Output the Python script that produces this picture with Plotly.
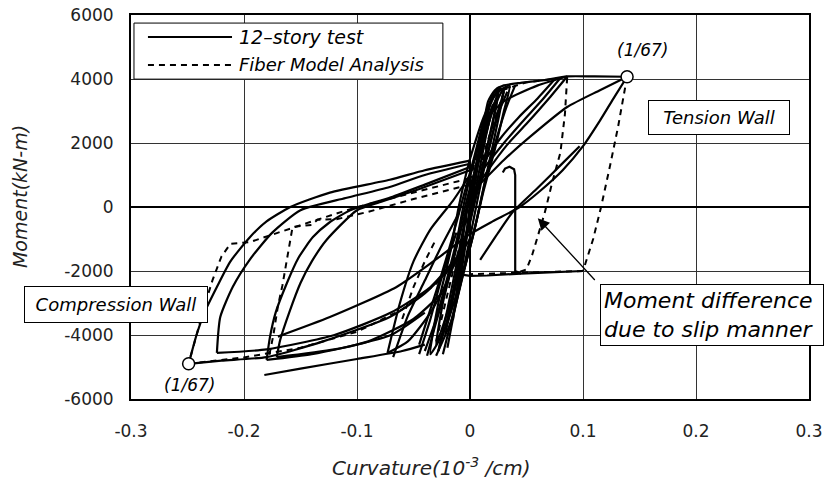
import plotly.graph_objects as go

# ---------------- data ----------------
x_ticks = [-0.3, -0.2, -0.1, 0, 0.1, 0.2, 0.3]
x_tick_text = ["-0.3", "-0.2", "-0.1", "0", "0.1", "0.2", "0.3"]
y_ticks = [-6000, -4000, -2000, 0, 2000, 4000, 6000]
y_tick_text = ["-6000", "-4000", "-2000", "0", "2000", "4000", "6000"]

peak_points = [(0.139, 4070), (-0.249, -4900)]   # (1/67) drift points

# 12-story test (solid) -- smooth branches
test_pos_env = [(0.0, 1000), (0.01, 2200), (0.016, 3300), (0.022, 3650), (0.03, 3800), (0.045, 3880),
                (0.065, 3960), (0.086, 4080), (0.11, 4080), (0.139, 4070)]
test_pos_unload = [(0.139, 4070), (0.128, 3450), (0.115, 2700), (0.1, 1900), (0.082, 1150),
                   (0.062, 500), (0.044, 0), (0.02, -450), (0.0, -850), (-0.027, -1560),
                   (-0.065, -2500), (-0.124, -3440), (-0.17, -4050)]
test_pos_reload = [(0.0, 400), (0.03, 1470), (0.053, 2190), (0.086, 3125), (0.115, 3650), (0.139, 4070)]
test_pos_small1 = [(0.086, 4080), (0.07, 3400), (0.05, 2600), (0.033, 1950), (0.015, 1100), (0.0, 300)]
test_pos_small2 = [(0.08, 4030), (0.064, 3350), (0.046, 2650), (0.03, 2000), (0.012, 1200)]
test_pos_small3 = [(0.075, 3990), (0.06, 3400), (0.043, 2800), (0.027, 2150), (0.01, 1300)]
test_pos_small4 = [(0.01, 2600), (0.03, 3300), (0.06, 3800), (0.086, 4080)]
test_pos_mid = [(0.009, -1650), (0.025, -800), (0.038, -150), (0.06, 600), (0.08, 1300), (0.097, 1900)]

test_n1_upper = [(0.0, 1450), (-0.04, 1150), (-0.071, 850), (-0.124, 450), (-0.159, 0), (-0.18, -450),
                 (-0.195, -950), (-0.212, -1700), (-0.224, -2500), (-0.235, -3300), (-0.242, -4000),
                 (-0.249, -4900)]
test_n1_lower = [(-0.249, -4900), (-0.22, -4800), (-0.18, -4690), (-0.13, -4200), (-0.071, -3440),
                 (-0.04, -2700), (-0.015, -1800), (0.0, -1000)]
test_n2_upper = [(0.0, 1350), (-0.04, 1000), (-0.071, 625), (-0.11, 280), (-0.15, -100), (-0.175, -800),
                 (-0.195, -1650), (-0.21, -2500), (-0.221, -3440), (-0.224, -4560)]
test_n2_lower = [(-0.224, -4560), (-0.18, -4450), (-0.12, -4000), (-0.07, -3300), (-0.035, -2500),
                 (-0.01, -1500)]
test_n3_upper = [(0.0, 1250), (-0.04, 700), (-0.07, 300), (-0.106, -100), (-0.125, -500), (-0.139, -940),
                 (-0.152, -1600), (-0.162, -2375), (-0.172, -3300), (-0.177, -4060), (-0.18, -4780)]
test_n3_lower = [(-0.18, -4780), (-0.14, -4600), (-0.09, -4200), (-0.05, -3500), (-0.025, -2700)]
test_n4_upper = [(0.0, 1150), (-0.05, 500), (-0.08, 150), (-0.1, -100), (-0.127, -1030), (-0.14, -1700),
                 (-0.15, -2375), (-0.16, -3300), (-0.168, -4156), (-0.171, -4690)]
test_n4_lower = [(-0.171, -4690), (-0.12, -4450), (-0.07, -4000), (-0.04, -3300)]
test_n5_lower = [(-0.182, -5250), (-0.15, -5050), (-0.1, -4750), (-0.06, -4500), (-0.04, -4300)]

test_band1 = [(-0.035, -4600), (-0.028, -3000), (-0.018, -1500), (-0.01, 0), (0.0, 1500), (0.012, 2800),
              (0.022, 3500), (0.035, 3800), (0.03, 3000), (0.022, 1800), (0.012, 500), (0.002, -1000),
              (-0.01, -2500), (-0.022, -3800), (-0.035, -4600)]
test_band2 = [(-0.03, -4300), (-0.024, -3000), (-0.014, -1500), (-0.006, 0), (0.004, 1500), (0.014, 2800),
              (0.022, 3600), (0.03, 3700), (0.024, 2900), (0.016, 1700), (0.006, 400), (-0.004, -1000),
              (-0.014, -2600), (-0.03, -4300)]
test_band3 = [(-0.022, -4000), (-0.016, -2800), (-0.008, -1300), (-0.002, 0), (0.006, 1400), (0.014, 2600),
              (0.025, 3500), (0.02, 2600), (0.012, 1400), (0.004, 200), (-0.006, -1300), (-0.014, -2700),
              (-0.022, -4000)]
test_band4 = [(-0.015, -3500), (-0.01, -2300), (-0.004, -1000), (0.0, 0), (0.006, 1200), (0.012, 2200),
              (0.02, 3200), (0.014, 2200), (0.008, 1100), (0.002, 0), (-0.006, -1200), (-0.015, -3500)]
test_band5 = [(-0.01, -2600), (-0.005, -1400), (0.0, 0), (0.005, 1200), (0.012, 2500), (0.007, 1300),
              (0.002, 200), (-0.004, -1200), (-0.01, -2600)]
test_band6 = [(-0.04, -4500), (-0.03, -3500), (-0.02, -2200), (-0.01, -800), (0.0, 600), (0.01, 1800),
              (0.02, 3000), (0.03, 3700), (0.036, 3750)]
test_band7 = [(-0.028, -4500), (-0.02, -3200), (-0.012, -1800), (-0.004, -300), (0.004, 1100),
              (0.012, 2300), (0.018, 3200), (0.026, 3750)]
test_band8 = [(0.026, 3750), (0.022, 3000), (0.016, 2000), (0.008, 800), (0.0, -500), (-0.01, -2000),
              (-0.02, -3500), (-0.028, -4500)]
test_band9 = [(-0.02, -4400), (-0.014, -3300), (-0.006, -2000), (0.002, -600), (0.01, 800), (0.018, 2000),
              (0.026, 3000), (0.033, 3600)]
test_band10 = [(0.04, 3800), (0.032, 3100), (0.024, 2200), (0.014, 900), (0.006, -400), (-0.004, -1800),
               (-0.014, -3200), (-0.024, -4600)]
test_band11 = [(-0.045, -4300), (-0.036, -3300), (-0.026, -2200), (-0.016, -1000), (-0.006, 300),
               (0.004, 1600), (0.012, 2700), (0.02, 3500)]
test_band12 = [(-0.038, -4650), (-0.03, -3600), (-0.02, -2400), (-0.01, -1000), (0.0, 400), (0.01, 1700),
               (0.018, 2800), (0.024, 3500)]
test_band13 = [(0.03, 3650), (0.026, 2900), (0.02, 1900), (0.012, 600), (0.004, -700), (-0.006, -2100),
               (-0.016, -3500), (-0.03, -4650)]
test_low1 = [(-0.073, -4560), (-0.062, -3000), (-0.05, -1700), (-0.035, -700), (-0.015, 200), (0.0, 1000)]
test_low2 = [(-0.068, -4690), (-0.055, -3400), (-0.04, -2300), (-0.025, -1200), (-0.01, -200)]
test_low3 = [(-0.073, -4560), (-0.055, -4200), (-0.035, -3300), (-0.02, -2300), (-0.005, -1000)]
test_low4 = [(-0.045, -4600), (-0.035, -3500), (-0.025, -2200), (-0.012, -800)]

# 12-story test (solid) -- straight slip segments
test_slip = [(0.1, -2000), (0.08, -2040), (0.06, -2060), (0.045, -2080), (0.04, -2000), (0.04, -1000),
             (0.04, 0), (0.04, 1000), (0.039, 1180), (0.035, 1260), (0.031, 1200), (0.029, 1080)]
test_base = [(0.045, -2080), (0.03, -2120), (0.015, -2140), (0.0, -2150), (-0.01, -2100)]

# Fiber model analysis (dashed)
fiber_pos_big = [(0.139, 4070), (0.136, 3500), (0.131, 2500), (0.124, 1300), (0.116, 0), (0.109, -1000),
                 (0.103, -1700), (0.1, -2000)]
fiber_pos_small = [(0.086, 4050), (0.084, 2900), (0.08, 1700), (0.073, 800), (0.066, -200), (0.06, -900),
                   (0.055, -1500), (0.05, -1950), (0.04, -2080)]
fiber_base = [(0.1, -2000), (0.05, -2060), (0.0, -2100)]
fiber_pos_env = [(0.0, 800), (0.008, 2000), (0.016, 3100), (0.024, 3600), (0.05, 3900), (0.086, 4050)]
fiber_neg_outer = [(0.0, 900), (-0.05, 450), (-0.1, 0), (-0.14, -450), (-0.17, -800), (-0.195, -1100),
                   (-0.212, -1150), (-0.22, -1550), (-0.228, -2300), (-0.235, -3100), (-0.242, -4000),
                   (-0.249, -4900)]
fiber_neg_inner = [(0.0, 700), (-0.05, 250), (-0.09, -150), (-0.118, -380), (-0.135, -400), (-0.14, -560),
                   (-0.157, -620), (-0.16, -1250), (-0.163, -1900), (-0.166, -2450), (-0.17, -3100),
                   (-0.174, -4000), (-0.178, -4700)]
fiber_neg_lower = [(-0.249, -4900), (-0.2, -4700), (-0.15, -4400), (-0.1, -3900), (-0.06, -3200),
                   (-0.03, -2400), (0.0, -1300)]
fiber_center = [(-0.03, -4200), (-0.015, -2000), (0.0, 0), (0.015, 2000), (0.03, 3600)]
fiber_low = [(-0.06, -3500), (-0.05, -2500), (-0.04, -1700), (-0.03, -1000)]

test_smooth = [test_pos_env, test_pos_unload, test_pos_reload, test_pos_small1, test_pos_small2,
               test_pos_small3, test_pos_small4, test_pos_mid, test_n1_upper, test_n1_lower,
               test_n2_upper, test_n2_lower, test_n3_upper, test_n3_lower, test_n4_upper,
               test_n4_lower, test_n5_lower, test_band1, test_band2, test_band3, test_band4,
               test_band5, test_band6, test_band7, test_band8, test_band9, test_band10, test_band11,
               test_band12, test_band13, test_low1, test_low2, test_low3, test_low4]
test_straight = [test_slip, test_base]
fiber_curves = [fiber_pos_big, fiber_pos_small, fiber_base, fiber_pos_env, fiber_neg_outer,
                fiber_neg_inner, fiber_neg_lower, fiber_center, fiber_low]

# ---------------- figure ----------------
FONT = "DejaVu Sans"
DASH = "6px,5px"
fig = go.Figure()

for c in test_smooth:
    fig.add_trace(go.Scatter(x=[p[0] for p in c], y=[p[1] for p in c], mode="lines",
                             line=dict(color="black", width=2.2, shape="spline", smoothing=0.6),
                             showlegend=False, hoverinfo="skip"))
for c in test_straight:
    fig.add_trace(go.Scatter(x=[p[0] for p in c], y=[p[1] for p in c], mode="lines",
                             line=dict(color="black", width=2.2),
                             showlegend=False, hoverinfo="skip"))
for c in fiber_curves:
    fig.add_trace(go.Scatter(x=[p[0] for p in c], y=[p[1] for p in c], mode="lines",
                             line=dict(color="black", width=2, dash=DASH),
                             showlegend=False, hoverinfo="skip"))

fig.add_trace(go.Scatter(x=[p[0] for p in peak_points], y=[p[1] for p in peak_points], mode="markers",
                         marker=dict(symbol="circle", size=12, color="white",
                                     line=dict(color="black", width=1.5)),
                         showlegend=False, hoverinfo="skip"))

axis_common = dict(showgrid=True, gridcolor="#333333", gridwidth=1.2, zeroline=True,
                   zerolinecolor="black", zerolinewidth=2, showline=True, mirror=True,
                   linecolor="black", linewidth=2, ticks="",
                   tickfont=dict(family=FONT, size=17, color="#222"))

fig.update_layout(
    width=824, height=480,
    margin=dict(l=131, r=15, t=15, b=81, autoexpand=False),
    paper_bgcolor="white", plot_bgcolor="white",
    xaxis=dict(range=[-0.3, 0.3], tickvals=x_ticks, ticktext=x_tick_text,
               ticklabelstandoff=16, **axis_common),
    yaxis=dict(range=[-6000, 6000], tickvals=y_ticks, ticktext=y_tick_text,
               ticklabelstandoff=12, **axis_common),
    showlegend=False,
)

# legend (drawn)
fig.add_shape(type="rect", xref="paper", yref="paper", x0=0.0044, x1=0.460, y0=0.833, y1=0.979,
              line=dict(color="black", width=1), fillcolor="white", layer="above")
fig.add_shape(type="line", xref="paper", yref="paper", x0=0.025, x1=0.149, y0=0.943, y1=0.943,
              line=dict(color="black", width=2), layer="above")
fig.add_shape(type="line", xref="paper", yref="paper", x0=0.025, x1=0.149, y0=0.870, y1=0.870,
              line=dict(color="black", width=2, dash=DASH), layer="above")
fig.add_annotation(xref="paper", yref="paper", x=0.156, y=0.943, xanchor="left", yanchor="middle",
                   text="<i>12\u2013story test</i>", showarrow=False,
                   font=dict(family=FONT, size=19, color="black"))
fig.add_annotation(xref="paper", yref="paper", x=0.156, y=0.870, xanchor="left", yanchor="middle",
                   text="<i>Fiber Model Analysis</i>", showarrow=False,
                   font=dict(family=FONT, size=18, color="black"))

# axis titles
fig.add_annotation(xref="paper", yref="paper", x=0.4425, y=-0.177, xanchor="center", yanchor="middle",
                   text="<i>Curvature(10<sup>-3</sup> /cm)</i>", showarrow=False,
                   font=dict(family=FONT, size=20, color="#222"))
fig.add_annotation(xref="paper", yref="paper", x=-0.1637, y=0.526, xanchor="center", yanchor="middle",
                   text="<i>Moment(kN-m)</i>", textangle=-90, showarrow=False,
                   font=dict(family=FONT, size=19, color="#222"))

# drift labels
fig.add_annotation(x=0.153, y=4906, xanchor="center", yanchor="middle", text="<i>(1/67)</i>",
                   showarrow=False, font=dict(family=FONT, size=17, color="black"))
fig.add_annotation(x=-0.248, y=-5560, xanchor="center", yanchor="middle", text="<i>(1/67)</i>",
                   showarrow=False, font=dict(family=FONT, size=17, color="black"))

# boxed labels
fig.add_annotation(x=0.220, y=2800, xanchor="center", yanchor="middle", text="<i>Tension Wall</i>",
                   showarrow=False, font=dict(family=FONT, size=18, color="black"),
                   bordercolor="black", borderwidth=1, borderpad=5, bgcolor="white",
                   width=130, height=23)
fig.add_annotation(xref="paper", yref="paper", x=(116 - 131) / 678, y=(399 - 304.5) / 384,
                   xanchor="center", yanchor="middle", text="<i>Compression Wall</i>",
                   showarrow=False, font=dict(family=FONT, size=18, color="black"),
                   bordercolor="black", borderwidth=1, borderpad=5, bgcolor="white",
                   width=172, height=25)
fig.add_annotation(x=0.06, y=-350, ax=60, ay=65, text=" ", showarrow=True,
                   arrowhead=2, arrowsize=1.8, arrowwidth=1.3, arrowcolor="black")
fig.add_annotation(xref="paper", yref="paper", x=(712 - 131) / 678, y=(399 - 315) / 384,
                   xanchor="center", yanchor="middle",
                   text="<i>Moment difference<br>due to slip manner</i>", showarrow=False,
                   align="left", font=dict(family=FONT, size=22, color="black"),
                   bordercolor="black", borderwidth=1, borderpad=3, bgcolor="white",
                   width=216, height=54)

fig.write_html("out.html")
